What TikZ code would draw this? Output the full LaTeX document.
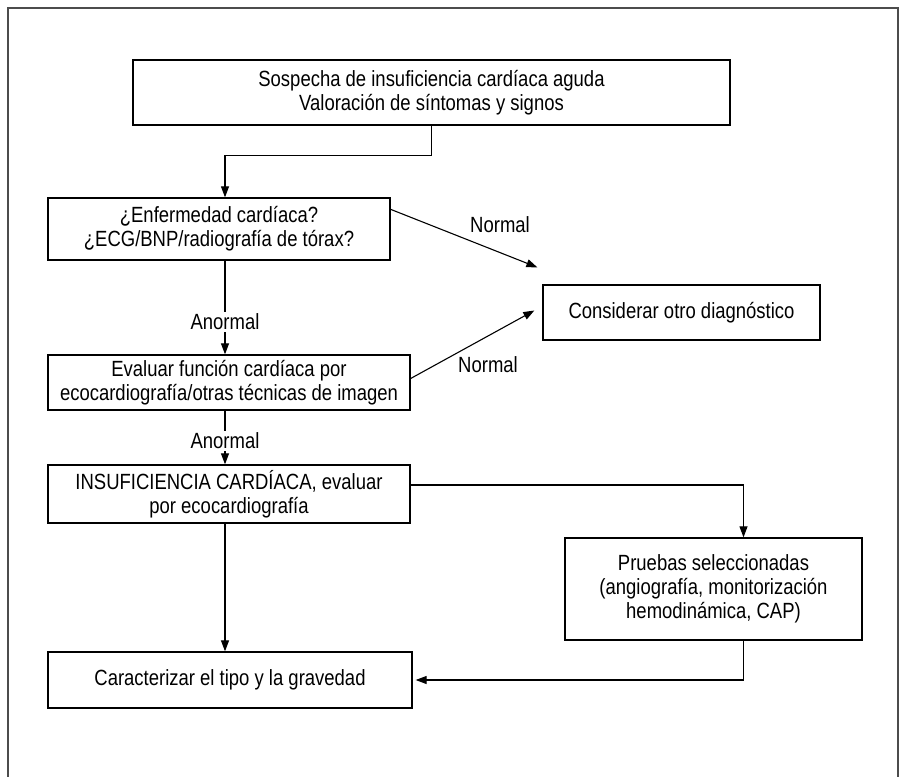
\documentclass[tikz,border=0pt]{standalone}
\usepackage{fontspec}
\setmainfont[FakeStretch=0.84]{Liberation Sans}
\usetikzlibrary{arrows.meta,calc}
\begin{document}
\begin{tikzpicture}[x=1pt,y=-1pt,
  box/.style={draw=black,line width=1.3pt,align=center,inner sep=0pt,font=\fontsize{22}{24}\selectfont},
  lbl/.style={inner sep=2pt,font=\fontsize{22}{24}\selectfont},
  arr/.style={line width=1.1pt,-{Triangle[length=11pt,width=8pt]}},
  ln/.style={line width=1.1pt}]
\useasboundingbox (0,0) rectangle (909,776);
\draw[line width=2pt,draw=black!70] (8,790) -- (8,8) -- (898,8) -- (898,790);
\node[box,minimum width=597pt,minimum height=65pt] (b1) at (431.5,92.5) {Sospecha de insuficiencia cardíaca aguda\\Valoración de síntomas y signos};
\node[box,minimum width=342pt,minimum height=62pt] (b2) at (219,229) {¿Enfermedad cardíaca?\\¿ECG/BNP/radiografía de tórax?};
\node[box,minimum width=277pt,minimum height=55pt] (c) at (681.5,312.5) {Considerar otro diagnóstico};
\node[box,minimum width=362pt,minimum height=55pt] (b3) at (229,382.5) {Evaluar función cardíaca por\\ecocardiografía/otras técnicas de imagen};
\node[box,minimum width=362pt,minimum height=58pt] (b4) at (229,494) {INSUFICIENCIA CARDÍACA, evaluar\\por ecocardiografía};
\node[box,minimum width=297pt,minimum height=102pt] (p) at (713.5,589) {Pruebas seleccionadas\\(angiografía, monitorización\\hemodinámica, CAP)};
\node[box,minimum width=364pt,minimum height=56pt] (b5) at (230,680) {Caracterizar el tipo y la gravedad};
\node[lbl] (n1) at (500,225) {Normal};
\node[lbl] (n2) at (488,365) {Normal};
\node[lbl] (a1) at (225,322) {Anormal};
\node[lbl] (a2) at (225,441) {Anormal};
\coordinate (c1) at ($(c.north west)+(-5,-17)$);
\coordinate (c2) at ($(c.west)+(-8,-2)$);
\draw[arr] (b1.south) -- ++(0,30) -| ($(b2.north)+(6,0)$);
\draw[arr] ($(b2.north east)+(0,12)$) -- (c1);
\draw[arr] ($(b3.east)+(0,-4)$) -- (c2);
\draw[ln] ($(b2.south)+(6,0)$) -- (a1.north);
\draw[arr] (a1.south) -- ($(b3.north)+(-4,0)$);
\draw[ln] ($(b3.south)+(-4,0)$) -- (a2.north);
\draw[arr] (a2.south) -- ($(b4.north)+(-4,0)$);
\draw[arr] ($(b4.east)+(0,-9)$) -| ($(p.north)+(30,0)$);
\draw[arr] ($(b4.south)+(-4,0)$) -- ($(b5.north)+(-5,0)$);
\draw[arr] ($(p.south)+(30,0)$) |- ($(b5.east)+(3,0)$);
\end{tikzpicture}
\end{document}
